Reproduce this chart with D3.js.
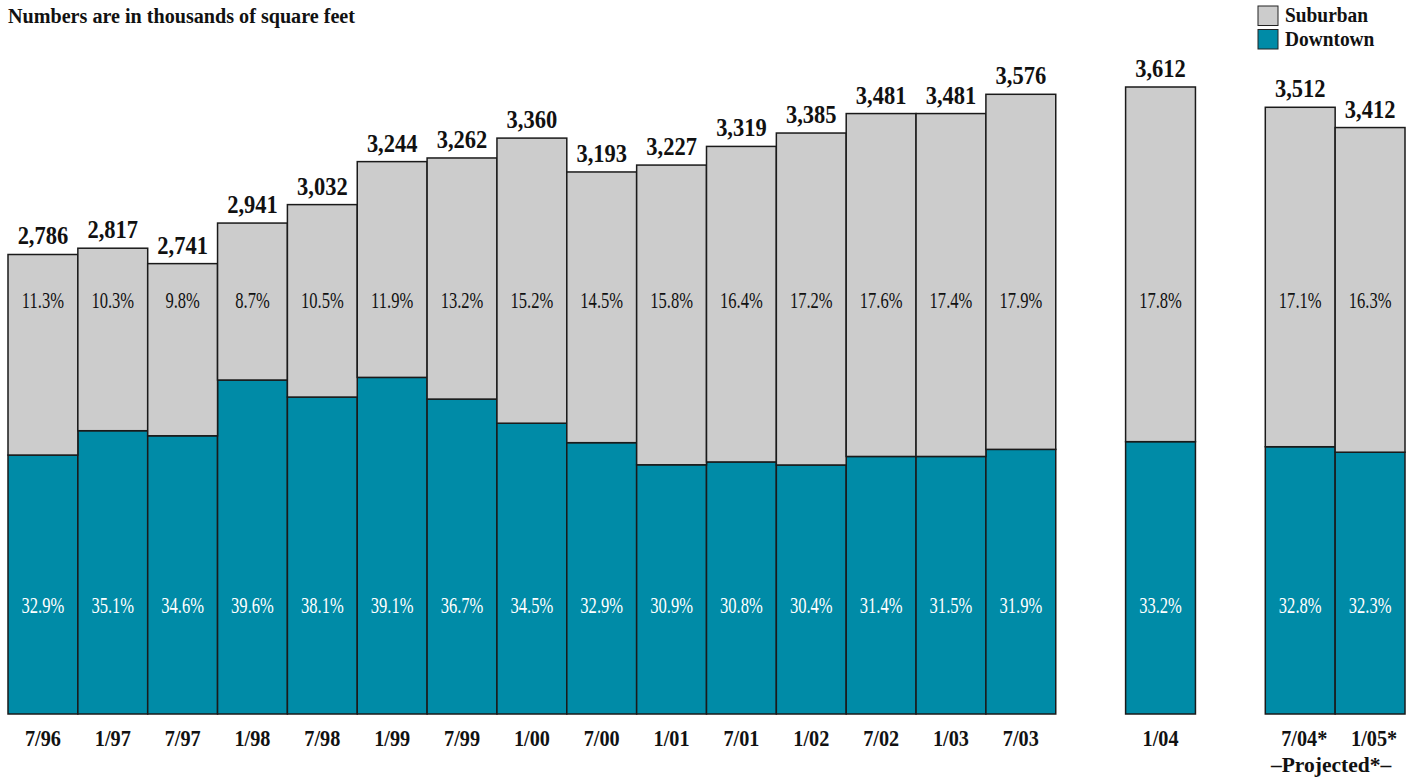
<!DOCTYPE html>
<html>

<head>
  <meta charset="utf-8">
  <title>Office space</title>
  <style>
    body {
      margin: 0;
      background-color: #fff;
      font-family: 'Liberation Serif', 'DejaVu Serif', serif;
    }

    .bar {
      stroke: #1a1a1a;
      stroke-width: 1.5px;
    }

    text {
      fill: #111;
    }
  </style>
</head>

<body>
  <div id="chart"></div>
  <script src="https://d3js.org/d3.v7.min.js"></script>
  <script>
    // ---- data ----
    var categories = ["7/96", "1/97", "7/97", "1/98", "7/98", "1/99", "7/99", "1/00", "7/00",
      "1/01", "7/01", "1/02", "7/02", "1/03", "7/03", "1/04", "7/04*", "1/05*"];
    var totals = [2786, 2817, 2741, 2941, 3032, 3244, 3262, 3360, 3193,
      3227, 3319, 3385, 3481, 3481, 3576, 3612, 3512, 3412];
    // downtown part
    var downtown = [1797, 1917, 1892, 2167, 2083, 2180, 2073, 1954, 1858,
      1749, 1763, 1748, 1790, 1790, 1825, 1863, 1838, 1811];
    var suburbanPct = [11.3, 10.3, 9.8, 8.7, 10.5, 11.9, 13.2, 15.2, 14.5,
      15.8, 16.4, 17.2, 17.6, 17.4, 17.9, 17.8, 17.1, 16.3];
    var downtownPct = [32.9, 35.1, 34.6, 39.6, 38.1, 39.1, 36.7, 34.5, 32.9,
      30.9, 30.8, 30.4, 31.4, 31.5, 31.9, 33.2, 32.8, 32.3];
    var gapsAfter = ["7/03", "1/04"];
    var projected = ["7/04*", "1/05*"];

    var colors = {
      'Suburban': '#cccccc',
      'Downtown': '#008ba7'
    };

    var width = 1413,
      height = 781;

    var data = categories.map(function(c, i) {
      return {
        cat: c,
        total: totals[i],
        downtown: downtown[i],
        suburban: totals[i] - downtown[i],
        subPct: suburbanPct[i],
        downPct: downtownPct[i]
      };
    });

    // slots with empty gaps between the groups
    var slots = [];
    categories.forEach(function(c) {
      slots.push(c);
      if (gapsAfter.includes(c)) slots.push("gap-" + c);
    });

    var x = d3.scaleBand()
      .domain(slots)
      .range([8, 1405])
      .padding(0);

    // the value axis does not start at zero
    var y = d3.scaleLinear()
      .domain([520, 3612])
      .range([714, 87])
      .clamp(true);

    var fmt = d3.format(",");
    var pct = function(v) { return d3.format(".1f")(v) + "%"; };

    var svg = d3.select("#chart").append("svg")
      .attr("width", width)
      .attr("height", height);

    // narrow serif text: scale horizontally around the anchor
    function label(parent, tx, ty, str, size, weight, sx, anchor, fill) {
      var g = parent.append("g")
        .attr("transform", "translate(" + tx + "," + ty + ")");
      g.append("text")
        .attr("transform", "scale(" + sx + ",1)")
        .attr("text-anchor", anchor || "middle")
        .style("font-size", size + "px")
        .style("font-weight", weight)
        .style("fill", fill || "#111")
        .text(str);
      return g;
    }

    var stack = d3.stack().keys(["downtown", "suburban"]);
    var series = stack(data);

    var layers = svg.selectAll("g.layer")
      .data(series)
      .enter().append("g")
      .attr("class", "layer")
      .style("fill", function(d) {
        return d.key == "downtown" ? colors.Downtown : colors.Suburban;
      });

    layers.selectAll("rect")
      .data(function(d) { return d; })
      .enter().append("rect")
      .attr("class", "bar")
      .attr("x", function(d) { return x(d.data.cat); })
      .attr("width", x.bandwidth())
      .attr("y", function(d) { return y(d[1]); })
      .attr("height", function(d) { return y(d[0]) - y(d[1]); });

    // labels
    data.forEach(function(d) {
      var cx = x(d.cat) + x.bandwidth() / 2;
      label(svg, cx, y(d.total) - 10, fmt(d.total), 25, "bold", 0.9);
      label(svg, cx, 308, pct(d.subPct), 23, "normal", 0.72);
      label(svg, cx, 613, pct(d.downPct), 23, "normal", 0.72, "middle", "#fff");
      label(svg, cx + (d.cat.endsWith("*") ? 4 : 0), 746, d.cat, 23, "bold", 0.88);
    });

    var pMid = (x(projected[0]) + x(projected[1]) + x.bandwidth()) / 2;
    label(svg, pMid - 4, 772, "\u2013Projected*\u2013", 22, "bold", 0.98);

    // title
    label(svg, 8, 23, "Numbers are in thousands of square feet", 22, "bold", 0.915, "start");

    // legend
    var legend = svg.append("g")
      .attr("transform", "translate(1258,6)");
    var lg = legend.selectAll("g")
      .data(Object.keys(colors))
      .enter().append("g")
      .attr("transform", function(d, i) {
        return "translate(0," + i * 23.5 + ")";
      });
    lg.append("rect")
      .attr("width", 20)
      .attr("height", 19.5)
      .style("fill", function(d) { return colors[d]; })
      .style("stroke", "#222")
      .style("stroke-width", 1);
    lg.each(function(d) {
      label(d3.select(this), 27, 16, d, 20, "bold", 0.97, "start");
    });
  </script>
</body>

</html>
